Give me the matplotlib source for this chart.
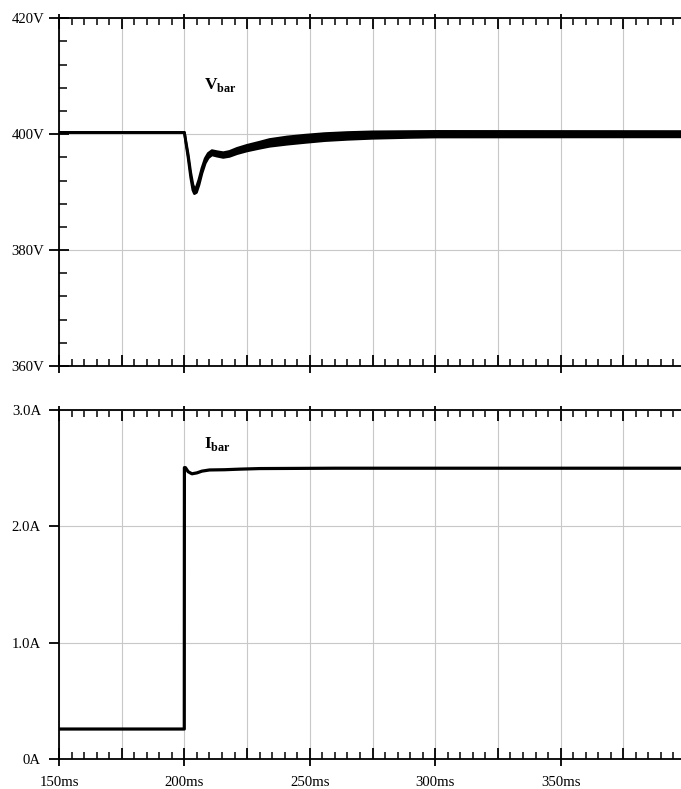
import numpy as np
import matplotlib
matplotlib.use("Agg")
import matplotlib.pyplot as plt
from matplotlib.ticker import MultipleLocator, FixedLocator

plt.rcParams["font.family"] = ["Liberation Serif", "DejaVu Serif"]
plt.rcParams["mathtext.fontset"] = "custom"
plt.rcParams["mathtext.rm"] = "Liberation Serif"
plt.rcParams["mathtext.bf"] = "Liberation Serif:bold"

# DC bus voltage: time (ms), centre value (V), ripple half-amplitude (V)
v_time = [150, 199.8, 200.0, 200.6, 201.5, 202.5, 203.4, 204.0, 204.8, 205.8,
          207.0, 208.3, 209.5, 211, 213, 215.5, 218, 221, 225, 230, 234, 241,
          248, 256, 265, 275, 290, 300, 398]
v_mid = [400.3, 400.3, 400.3, 398.6, 396.2, 393.0, 390.8, 390.2, 390.4, 391.7,
         393.7, 395.4, 396.3, 396.8, 396.6, 396.4, 396.6, 397.1, 397.6, 398.1,
         398.5, 398.9, 399.2, 399.5, 399.7, 399.85, 399.95, 400.0, 400.0]
v_ripple = [0, 0, 0, 0.15, 0.3, 0.4, 0.45, 0.45, 0.45, 0.45,
            0.42, 0.4, 0.38, 0.36, 0.38, 0.4, 0.42, 0.45, 0.48, 0.52,
            0.58, 0.62, 0.62, 0.6, 0.58, 0.55, 0.5, 0.48, 0.45]

# DC bus current: time (ms), value (A)
i_time = [150, 199.95, 200.0, 200.4, 201.5, 203, 205, 207, 210, 216, 222, 230, 260, 398]
i_val = [0.26, 0.26, 2.505, 2.505, 2.47, 2.452, 2.46, 2.475, 2.485, 2.487, 2.492, 2.497, 2.5, 2.5]

v_ticks = [360, 380, 400, 420]
v_labels = ["360V", "380V", "400V", "420V"]
i_ticks = [0, 1, 2, 3]
i_labels = ["0A", "1.0A", "2.0A", "3.0A"]
t_ticks = [150, 200, 250, 300, 350]
t_labels = ["150ms", "200ms", "250ms", "300ms", "350ms"]

W, H = 681, 789
fig = plt.figure(figsize=(W / 100, H / 100), dpi=100)
x0 = 59 / W
ax_v = fig.add_axes([x0, 1 - 366 / H, 1 - x0, (366 - 18.3) / H])
ax_i = fig.add_axes([x0, 1 - 759.3 / H, 1 - x0, (759.3 - 410) / H])

grid_kw = dict(color="#c8c8c8", linewidth=0.8)
LABEL_SIZE = 10.6


def style(ax):
    ax.set_xlim(150, 398)
    ax.spines["right"].set_visible(False)
    for s in ("left", "top", "bottom"):
        ax.spines[s].set_linewidth(1.3)
    ax.xaxis.set_major_locator(MultipleLocator(25))
    ax.xaxis.set_minor_locator(MultipleLocator(5))
    ax.tick_params(axis="x", which="major", direction="in", length=8, width=1.3,
                   top=True, bottom=True, labelbottom=False)
    ax.tick_params(axis="x", which="minor", direction="in", length=5, width=1.1,
                   top=True, bottom=True)
    ax.grid(True, which="major", **grid_kw)
    ax.set_axisbelow(True)
    # crossing marks at every 50 ms
    for side in ("top", "bottom"):
        sec = ax.secondary_xaxis(side)
        sec.set_xticks(t_ticks)
        sec.tick_params(direction="out", length=3 if side == "top" else 5, width=1.3,
                        labelsize=LABEL_SIZE, pad=7)
        for sp in sec.spines.values():
            sp.set_visible(False)
        if side == "bottom" and ax is ax_i:
            sec.set_xticklabels(t_labels)
        else:
            sec.set_xticklabels([])


style(ax_v)
style(ax_i)

# voltage panel
ax_v.set_ylim(360, 420)
ax_v.yaxis.set_major_locator(FixedLocator(v_ticks))
ax_v.set_yticklabels(v_labels)
ax_v.yaxis.set_minor_locator(MultipleLocator(4))
ax_v.tick_params(axis="y", which="major", direction="inout", length=15, width=1.3,
                 labelsize=LABEL_SIZE, pad=3)
ax_v.tick_params(axis="y", which="minor", direction="in", length=6, width=1.1)

vt = np.array(v_time)
vm = np.array(v_mid)
vr = np.array(v_ripple)
ax_v.fill_between(vt, vm - vr, vm + vr, color="black", linewidth=0, zorder=3)
ax_v.plot(vt, vm + vr, color="black", linewidth=2.0, zorder=3, solid_joinstyle="round")
ax_v.plot(vt, vm - vr, color="black", linewidth=2.0, zorder=3, solid_joinstyle="round")
ax_v.text(207.8, 407.75, r"$\mathbf{V}_{\mathbf{bar}}$", fontsize=12.5, va="baseline")

# current panel
ax_i.set_ylim(0, 3)
ax_i.yaxis.set_major_locator(FixedLocator(i_ticks))
ax_i.set_yticklabels(i_labels)
ax_i.tick_params(axis="y", which="major", direction="out", length=7, width=1.3,
                 labelsize=LABEL_SIZE, pad=6)
ax_i.plot(i_time, i_val, color="black", linewidth=2.3, zorder=3)
ax_i.text(207.8, 2.672, r"$\mathbf{I}_{\mathbf{bar}}$", fontsize=12.5, va="baseline")

fig.savefig("out.png", dpi=100)
